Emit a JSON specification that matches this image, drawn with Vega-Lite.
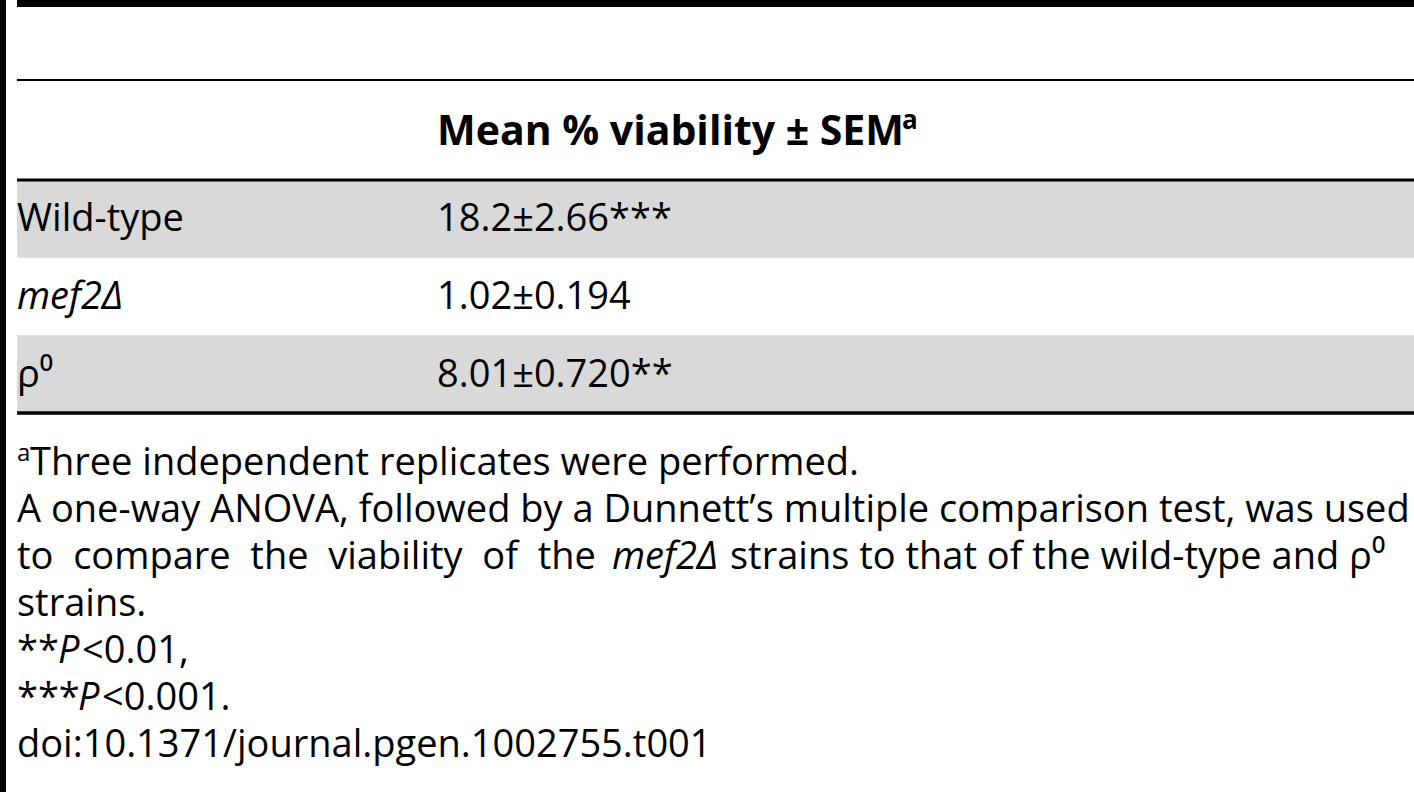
{
  "$schema": "https://vega.github.io/schema/vega-lite/v6.json",
  "description": "Table: mean % viability of strains, with footnotes.",
  "width": 1414,
  "height": 800,
  "padding": 0,
  "autosize": {"type": "none"},
  "background": "#ffffff",
  "config": {
    "view": {"stroke": null},
    "axis": {"disable": true},
    "text": {"font": "Open Sans", "fontSize": 38, "baseline": "alphabetic", "align": "left", "color": "#000000"}
  },
  "resolve": {"scale": {"x": "independent", "y": "independent"}},
  "layer": [
    {
      "data": {"values": [{"edge": "left"}]},
      "mark": {"type": "rect", "color": "#000000"},
      "encoding": {
        "x": {"field": "edge", "type": "nominal", "scale": {"type": "band", "domain": ["left"], "range": [0, 6], "paddingInner": 0, "paddingOuter": 0}},
        "y": {"field": "edge", "type": "nominal", "scale": {"type": "band", "domain": ["left"], "range": [0, 792], "paddingInner": 0, "paddingOuter": 0}}
      }
    },
    {
      "data": {"values": [
        {"row": "caption", "label": "", "note": ""},
        {"row": "header", "label": "Mean % viability ± SEM", "note": "a"}
      ]},
      "layer": [
        {
          "transform": [{"filter": "datum.row == 'caption'"}],
          "mark": {"type": "rule", "strokeWidth": 7, "color": "#000000"},
          "encoding": {
            "x": {"datum": "strain", "type": "nominal", "bandPosition": 0, "scale": {"type": "band", "domain": ["strain", "value"], "range": [17, 857], "paddingInner": 0, "paddingOuter": 0}},
            "x2": {"value": "width"},
            "y": {"field": "row", "type": "nominal", "bandPosition": 0.039, "scale": {"type": "band", "domain": ["caption", "header"], "range": [0, 180], "paddingInner": 0, "paddingOuter": 0}}
          }
        },
        {
          "transform": [{"filter": "datum.row == 'caption'"}],
          "mark": {"type": "rule", "strokeWidth": 2.2, "color": "#000000"},
          "encoding": {
            "x": {"datum": "strain", "type": "nominal", "bandPosition": 0, "scale": {"type": "band", "domain": ["strain", "value"], "range": [17, 857], "paddingInner": 0, "paddingOuter": 0}},
            "x2": {"value": "width"},
            "y": {"field": "row", "type": "nominal", "bandPosition": 0.889, "scale": {"type": "band", "domain": ["caption", "header"], "range": [0, 180], "paddingInner": 0, "paddingOuter": 0}}
          }
        },
        {
          "transform": [{"filter": "datum.row == 'header'"}],
          "mark": {"type": "text", "fontWeight": "bold", "fontSize": 41},
          "encoding": {
            "text": {"field": "label"},
            "x": {"datum": "value", "type": "nominal", "bandPosition": 0, "scale": {"type": "band", "domain": ["strain", "value"], "range": [17, 857], "paddingInner": 0, "paddingOuter": 0}},
            "y": {"field": "row", "type": "nominal", "bandPosition": 0.611, "scale": {"type": "band", "domain": ["caption", "header"], "range": [0, 180], "paddingInner": 0, "paddingOuter": 0}}
          }
        },
        {
          "transform": [{"filter": "datum.row == 'header'"}],
          "mark": {"type": "text", "fontWeight": "bold", "fontSize": 26, "dx": 465, "dy": -16},
          "encoding": {
            "text": {"field": "note"},
            "x": {"datum": "value", "type": "nominal", "bandPosition": 0, "scale": {"type": "band", "domain": ["strain", "value"], "range": [17, 857], "paddingInner": 0, "paddingOuter": 0}},
            "y": {"field": "row", "type": "nominal", "bandPosition": 0.611, "scale": {"type": "band", "domain": ["caption", "header"], "range": [0, 180], "paddingInner": 0, "paddingOuter": 0}}
          }
        }
      ]
    },
    {
      "data": {"values": [
        {"strain": "Wild-type", "viability": "18.2±2.66***"},
        {"strain": "mef2Δ", "viability": "1.02±0.194"},
        {"strain": "ρ⁰", "viability": "8.01±0.720**"}
      ]},
      "transform": [{"window": [{"op": "row_number", "as": "n"}]}],
      "layer": [
        {
          "transform": [{"filter": "datum.n % 2 == 1"}],
          "mark": {"type": "rect", "color": "#d9d9d9"},
          "encoding": {
            "x": {"datum": "strain", "type": "nominal", "bandPosition": 0, "scale": {"type": "band", "domain": ["strain", "value"], "range": [17, 857], "paddingInner": 0, "paddingOuter": 0}},
            "x2": {"value": "width"},
            "y": {"field": "strain", "type": "nominal", "scale": {"type": "band", "domain": ["Wild-type", "mef2Δ", "ρ⁰"], "range": [180, 413], "paddingInner": 0, "paddingOuter": 0}}
          }
        },
        {
          "transform": [{"filter": "datum.n == 1"}],
          "mark": {"type": "rule", "strokeWidth": 3, "color": "#000000"},
          "encoding": {
            "x": {"datum": "strain", "type": "nominal", "bandPosition": 0, "scale": {"type": "band", "domain": ["strain", "value"], "range": [17, 857], "paddingInner": 0, "paddingOuter": 0}},
            "x2": {"value": "width"},
            "y": {"field": "strain", "type": "nominal", "bandPosition": 0, "scale": {"type": "band", "domain": ["Wild-type", "mef2Δ", "ρ⁰"], "range": [180, 413], "paddingInner": 0, "paddingOuter": 0}}
          }
        },
        {
          "transform": [{"filter": "datum.n == 3"}],
          "mark": {"type": "rule", "strokeWidth": 3.5, "color": "#000000"},
          "encoding": {
            "x": {"datum": "strain", "type": "nominal", "bandPosition": 0, "scale": {"type": "band", "domain": ["strain", "value"], "range": [17, 857], "paddingInner": 0, "paddingOuter": 0}},
            "x2": {"value": "width"},
            "y": {"field": "strain", "type": "nominal", "bandPosition": 1, "scale": {"type": "band", "domain": ["Wild-type", "mef2Δ", "ρ⁰"], "range": [180, 413], "paddingInner": 0, "paddingOuter": 0}}
          }
        },
        {
          "transform": [{"filter": "datum.strain != 'mef2Δ'"}],
          "mark": {"type": "text"},
          "encoding": {
            "text": {"field": "strain"},
            "x": {"datum": "strain", "type": "nominal", "bandPosition": 0, "scale": {"type": "band", "domain": ["strain", "value"], "range": [17, 857], "paddingInner": 0, "paddingOuter": 0}},
            "y": {"field": "strain", "type": "nominal", "bandPosition": 0.66, "scale": {"type": "band", "domain": ["Wild-type", "mef2Δ", "ρ⁰"], "range": [180, 413], "paddingInner": 0, "paddingOuter": 0}}
          }
        },
        {
          "transform": [{"filter": "datum.strain == 'mef2Δ'"}],
          "mark": {"type": "text", "fontStyle": "italic"},
          "encoding": {
            "text": {"field": "strain"},
            "x": {"datum": "strain", "type": "nominal", "bandPosition": 0, "scale": {"type": "band", "domain": ["strain", "value"], "range": [17, 857], "paddingInner": 0, "paddingOuter": 0}},
            "y": {"field": "strain", "type": "nominal", "bandPosition": 0.66, "scale": {"type": "band", "domain": ["Wild-type", "mef2Δ", "ρ⁰"], "range": [180, 413], "paddingInner": 0, "paddingOuter": 0}}
          }
        },
        {
          "mark": {"type": "text"},
          "encoding": {
            "text": {"field": "viability"},
            "x": {"datum": "value", "type": "nominal", "bandPosition": 0, "scale": {"type": "band", "domain": ["strain", "value"], "range": [17, 857], "paddingInner": 0, "paddingOuter": 0}},
            "y": {"field": "strain", "type": "nominal", "bandPosition": 0.66, "scale": {"type": "band", "domain": ["Wild-type", "mef2Δ", "ρ⁰"], "range": [180, 413], "paddingInner": 0, "paddingOuter": 0}}
          }
        }
      ]
    },
    {
      "data": {"values": [
        {"line": "L1", "span": 1, "text": "a"},
        {"line": "L1", "span": 2, "text": "Three independent replicates were performed."},
        {"line": "L2", "span": 1, "text": "A one-way ANOVA, followed by a Dunnett’s multiple comparison test, was used"},
        {"line": "L3", "span": 1, "text": "to\u00a0\u00a0compare\u00a0\u00a0the\u00a0\u00a0viability\u00a0\u00a0of\u00a0\u00a0the"},
        {"line": "L3", "span": 2, "text": "mef2Δ"},
        {"line": "L3", "span": 3, "text": "strains to that of the wild-type and ρ⁰"},
        {"line": "L4", "span": 1, "text": "strains."},
        {"line": "L5", "span": 1, "text": "**"},
        {"line": "L5", "span": 2, "text": "P"},
        {"line": "L5", "span": 3, "text": "<0.01,"},
        {"line": "L6", "span": 1, "text": "***"},
        {"line": "L6", "span": 2, "text": "P"},
        {"line": "L6", "span": 3, "text": "<0.001."},
        {"line": "L7", "span": 1, "text": "doi:10.1371/journal.pgen.1002755.t001"}
      ]},
      "layer": [
        {
          "transform": [{"filter": "datum.span == 1 && datum.line != 'L1'"}],
          "mark": {"type": "text"},
          "encoding": {
            "text": {"field": "text"},
            "x": {"datum": "strain", "type": "nominal", "bandPosition": 0, "scale": {"type": "band", "domain": ["strain", "value"], "range": [17, 857], "paddingInner": 0, "paddingOuter": 0}},
            "y": {"field": "line", "type": "nominal", "bandPosition": 0.766, "scale": {"type": "band", "domain": ["L1", "L2", "L3", "L4", "L5", "L6", "L7"], "range": [439, 768], "paddingInner": 0, "paddingOuter": 0}}
          }
        },
        {
          "transform": [{"filter": "datum.line == 'L1' && datum.span == 1"}],
          "mark": {"type": "text", "fontSize": 24, "dy": -14},
          "encoding": {
            "text": {"field": "text"},
            "x": {"datum": "strain", "type": "nominal", "bandPosition": 0, "scale": {"type": "band", "domain": ["strain", "value"], "range": [17, 857], "paddingInner": 0, "paddingOuter": 0}},
            "y": {"field": "line", "type": "nominal", "bandPosition": 0.766, "scale": {"type": "band", "domain": ["L1", "L2", "L3", "L4", "L5", "L6", "L7"], "range": [439, 768], "paddingInner": 0, "paddingOuter": 0}}
          }
        },
        {
          "transform": [{"filter": "datum.line == 'L1' && datum.span == 2"}],
          "mark": {"type": "text", "dx": 13},
          "encoding": {
            "text": {"field": "text"},
            "x": {"datum": "strain", "type": "nominal", "bandPosition": 0, "scale": {"type": "band", "domain": ["strain", "value"], "range": [17, 857], "paddingInner": 0, "paddingOuter": 0}},
            "y": {"field": "line", "type": "nominal", "bandPosition": 0.766, "scale": {"type": "band", "domain": ["L1", "L2", "L3", "L4", "L5", "L6", "L7"], "range": [439, 768], "paddingInner": 0, "paddingOuter": 0}}
          }
        },
        {
          "transform": [{"filter": "datum.line == 'L3' && datum.span == 2"}],
          "mark": {"type": "text", "fontStyle": "italic", "dx": 595},
          "encoding": {
            "text": {"field": "text"},
            "x": {"datum": "strain", "type": "nominal", "bandPosition": 0, "scale": {"type": "band", "domain": ["strain", "value"], "range": [17, 857], "paddingInner": 0, "paddingOuter": 0}},
            "y": {"field": "line", "type": "nominal", "bandPosition": 0.766, "scale": {"type": "band", "domain": ["L1", "L2", "L3", "L4", "L5", "L6", "L7"], "range": [439, 768], "paddingInner": 0, "paddingOuter": 0}}
          }
        },
        {
          "transform": [{"filter": "datum.line == 'L3' && datum.span == 3"}],
          "mark": {"type": "text", "dx": 713},
          "encoding": {
            "text": {"field": "text"},
            "x": {"datum": "strain", "type": "nominal", "bandPosition": 0, "scale": {"type": "band", "domain": ["strain", "value"], "range": [17, 857], "paddingInner": 0, "paddingOuter": 0}},
            "y": {"field": "line", "type": "nominal", "bandPosition": 0.766, "scale": {"type": "band", "domain": ["L1", "L2", "L3", "L4", "L5", "L6", "L7"], "range": [439, 768], "paddingInner": 0, "paddingOuter": 0}}
          }
        },
        {
          "transform": [{"filter": "datum.line == 'L5' && datum.span == 2"}],
          "mark": {"type": "text", "fontStyle": "italic", "dx": 41},
          "encoding": {
            "text": {"field": "text"},
            "x": {"datum": "strain", "type": "nominal", "bandPosition": 0, "scale": {"type": "band", "domain": ["strain", "value"], "range": [17, 857], "paddingInner": 0, "paddingOuter": 0}},
            "y": {"field": "line", "type": "nominal", "bandPosition": 0.766, "scale": {"type": "band", "domain": ["L1", "L2", "L3", "L4", "L5", "L6", "L7"], "range": [439, 768], "paddingInner": 0, "paddingOuter": 0}}
          }
        },
        {
          "transform": [{"filter": "datum.line == 'L5' && datum.span == 3"}],
          "mark": {"type": "text", "dx": 65},
          "encoding": {
            "text": {"field": "text"},
            "x": {"datum": "strain", "type": "nominal", "bandPosition": 0, "scale": {"type": "band", "domain": ["strain", "value"], "range": [17, 857], "paddingInner": 0, "paddingOuter": 0}},
            "y": {"field": "line", "type": "nominal", "bandPosition": 0.766, "scale": {"type": "band", "domain": ["L1", "L2", "L3", "L4", "L5", "L6", "L7"], "range": [439, 768], "paddingInner": 0, "paddingOuter": 0}}
          }
        },
        {
          "transform": [{"filter": "datum.line == 'L6' && datum.span == 2"}],
          "mark": {"type": "text", "fontStyle": "italic", "dx": 61},
          "encoding": {
            "text": {"field": "text"},
            "x": {"datum": "strain", "type": "nominal", "bandPosition": 0, "scale": {"type": "band", "domain": ["strain", "value"], "range": [17, 857], "paddingInner": 0, "paddingOuter": 0}},
            "y": {"field": "line", "type": "nominal", "bandPosition": 0.766, "scale": {"type": "band", "domain": ["L1", "L2", "L3", "L4", "L5", "L6", "L7"], "range": [439, 768], "paddingInner": 0, "paddingOuter": 0}}
          }
        },
        {
          "transform": [{"filter": "datum.line == 'L6' && datum.span == 3"}],
          "mark": {"type": "text", "dx": 85},
          "encoding": {
            "text": {"field": "text"},
            "x": {"datum": "strain", "type": "nominal", "bandPosition": 0, "scale": {"type": "band", "domain": ["strain", "value"], "range": [17, 857], "paddingInner": 0, "paddingOuter": 0}},
            "y": {"field": "line", "type": "nominal", "bandPosition": 0.766, "scale": {"type": "band", "domain": ["L1", "L2", "L3", "L4", "L5", "L6", "L7"], "range": [439, 768], "paddingInner": 0, "paddingOuter": 0}}
          }
        }
      ]
    }
  ]
}
